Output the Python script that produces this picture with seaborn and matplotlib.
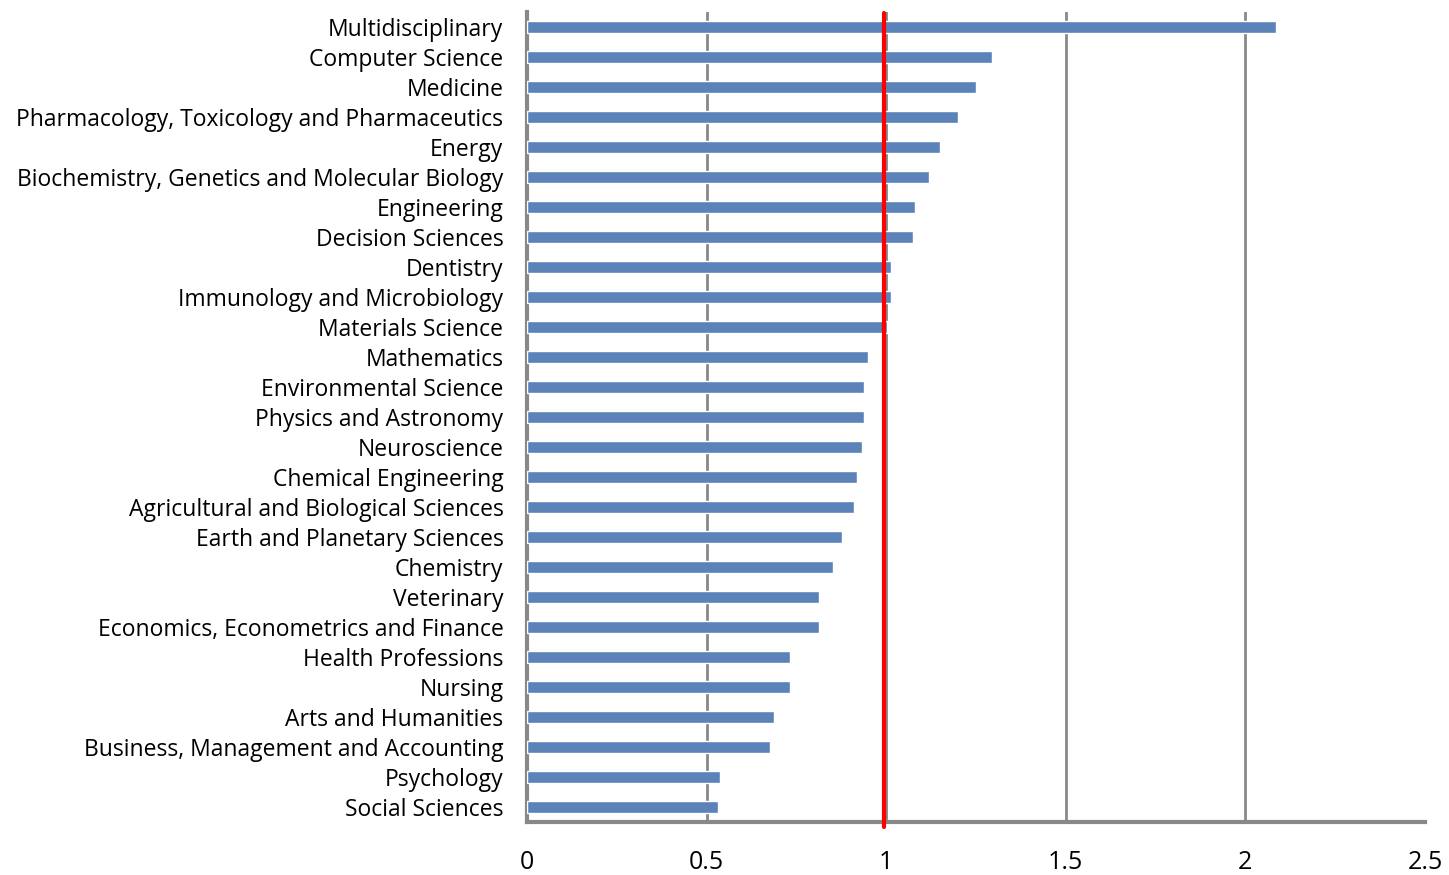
import matplotlib
matplotlib.use("Agg")
import matplotlib.pyplot as plt
import seaborn as sns
import pandas as pd

categories = [
    "Multidisciplinary", "Computer Science", "Medicine",
    "Pharmacology, Toxicology and Pharmaceutics", "Energy",
    "Biochemistry, Genetics and Molecular Biology", "Engineering",
    "Decision Sciences", "Dentistry", "Immunology and Microbiology",
    "Materials Science", "Mathematics", "Environmental Science",
    "Physics and Astronomy", "Neuroscience", "Chemical Engineering",
    "Agricultural and Biological Sciences", "Earth and Planetary Sciences",
    "Chemistry", "Veterinary", "Economics, Econometrics and Finance",
    "Health Professions", "Nursing", "Arts and Humanities",
    "Business, Management and Accounting", "Psychology", "Social Sciences",
]
values = [
    2.085, 1.295, 1.250, 1.200, 1.150, 1.120, 1.081, 1.075, 1.014, 1.014,
    1.002, 0.950, 0.939, 0.939, 0.933, 0.919, 0.909, 0.876, 0.853, 0.814,
    0.814, 0.733, 0.733, 0.688, 0.677, 0.538, 0.533,
]
reference_value = 0.995
x_ticks = [0, 0.5, 1, 1.5, 2, 2.5]
x_tick_labels = ["0", "0.5", "1", "1.5", "2", "2.5"]

df = pd.DataFrame({"category": categories, "value": values})

sns.set_theme(style="white")
plt.rcParams["font.family"] = ["Open Sans", "DejaVu Sans"]

fig = plt.figure(figsize=(14.49, 8.75), dpi=100)
ax = fig.add_axes([527 / 1449, 53 / 875, 898 / 1449, 810 / 875])

sns.barplot(data=df, x="value", y="category", color="#5B82B9", saturation=1,
            width=0.4, ax=ax, zorder=3)

ax.set_xlim(0, 2.5)
ax.set_xticks(x_ticks)
ax.set_xticklabels(x_tick_labels)
ax.set_xlabel("")
ax.set_ylabel("")

ax.xaxis.grid(True, color="#888888", linewidth=2, zorder=1)
ax.set_axisbelow(True)
ax.get_xgridlines()[-1].set_visible(False)

for s in ["top", "right"]:
    ax.spines[s].set_visible(False)
for s in ["left", "bottom"]:
    ax.spines[s].set_color("#888888")
    ax.spines[s].set_linewidth(3)

ax.tick_params(axis="y", length=0, pad=17, labelsize=16.5, labelcolor="black")
ax.tick_params(axis="x", length=0, pad=20, labelsize=18, labelcolor="black")

ax.axvline(reference_value, ymin=-0.006, ymax=0.999, color="#FF0000",
           linewidth=3, zorder=5, clip_on=False)

fig.savefig("out.png", dpi=100)
